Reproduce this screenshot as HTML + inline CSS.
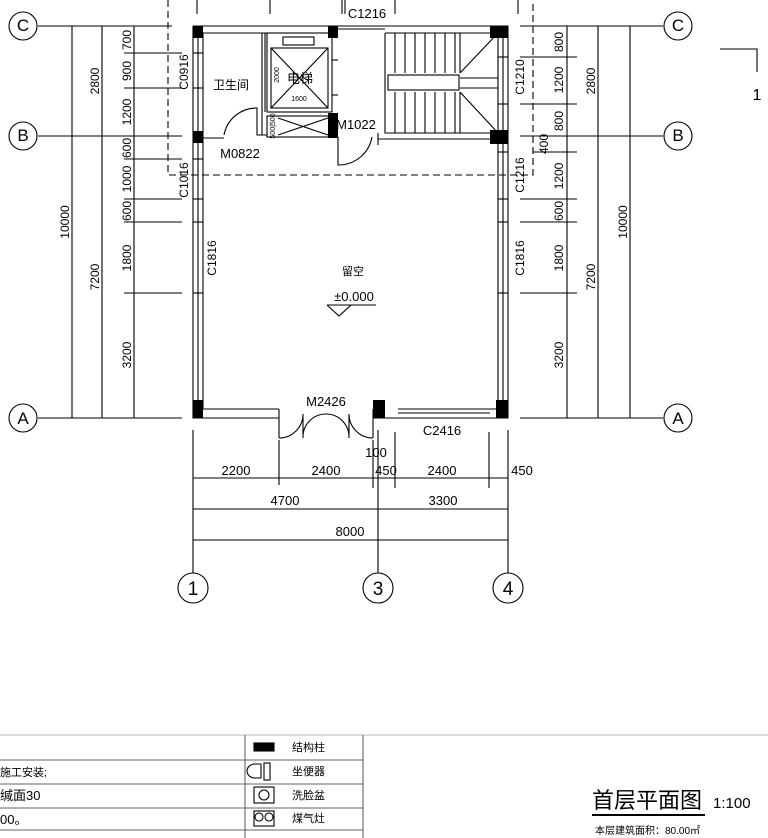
<!DOCTYPE html>
<html><head><meta charset="utf-8"><style>
html,body{margin:0;padding:0;background:#fff;}
svg{display:block;}
text{font-family:"Liberation Sans","Noto Sans CJK SC",sans-serif;fill:#000;}
</style></head><body>
<svg width="768" height="838" viewBox="0 0 768 838" xmlns="http://www.w3.org/2000/svg">
<g stroke="#000" stroke-width="1.1" fill="none">
<line x1="197" y1="0" x2="197" y2="14"/><line x1="270" y1="0" x2="270" y2="14"/>
<line x1="342" y1="0" x2="342" y2="14"/><line x1="345" y1="0" x2="345" y2="14"/>
<line x1="395" y1="0" x2="395" y2="14"/><line x1="518" y1="0" x2="518" y2="14"/>
<path d="M168 0 V175 H533 V0" stroke-dasharray="7,4"/>
<line x1="38" y1="26" x2="172" y2="26"/><line x1="38" y1="136" x2="182" y2="136"/><line x1="38" y1="418" x2="182" y2="418"/>
<line x1="72" y1="26" x2="72" y2="418"/><line x1="102" y1="26" x2="102" y2="418"/><line x1="134" y1="26" x2="134" y2="418"/>
<line x1="124" y1="53" x2="182" y2="53"/><line x1="124" y1="88" x2="182" y2="88"/>
<line x1="124" y1="159" x2="182" y2="159"/><line x1="124" y1="199" x2="182" y2="199"/>
<line x1="124" y1="222" x2="182" y2="222"/><line x1="124" y1="293" x2="182" y2="293"/>
<line x1="520" y1="26" x2="663" y2="26"/><line x1="520" y1="136" x2="663" y2="136"/><line x1="520" y1="418" x2="663" y2="418"/>
<line x1="567" y1="26" x2="567" y2="418"/><line x1="598" y1="26" x2="598" y2="418"/><line x1="630" y1="26" x2="630" y2="418"/>
<line x1="520" y1="57" x2="577" y2="57"/><line x1="520" y1="104" x2="577" y2="104"/>
<line x1="533" y1="152" x2="577" y2="152"/><line x1="520" y1="199" x2="577" y2="199"/>
<line x1="520" y1="222" x2="577" y2="222"/><line x1="520" y1="293" x2="577" y2="293"/>
<circle cx="23" cy="26" r="14"/><circle cx="23" cy="136" r="14"/><circle cx="23" cy="418" r="14"/>
<circle cx="678" cy="26" r="14"/><circle cx="678" cy="136" r="14"/><circle cx="678" cy="418" r="14"/>
<path d="M720 49 H757 V72"/>
<line x1="193" y1="430" x2="193" y2="573"/><line x1="378" y1="430" x2="378" y2="573"/><line x1="508" y1="430" x2="508" y2="573"/>
<line x1="279" y1="440" x2="279" y2="485"/><line x1="373" y1="440" x2="373" y2="488"/>
<line x1="395" y1="432" x2="395" y2="488"/><line x1="489" y1="432" x2="489" y2="488"/>
<line x1="193" y1="478" x2="508" y2="478"/><line x1="193" y1="509" x2="508" y2="509"/><line x1="193" y1="540" x2="508" y2="540"/>
<circle cx="193" cy="588" r="15"/><circle cx="378" cy="588" r="15"/><circle cx="508" cy="588" r="15"/>
<path d="M193 26 H508 V418 H373 M193 26 V418 H279"/>
<path d="M203 33 H338 M385 33 H498 V409 H398 M203 33 V409 H279"/>
<line x1="198" y1="33" x2="198" y2="409"/><line x1="503" y1="33" x2="503" y2="409"/>
<path d="M338 29 H385"/><line x1="398" y1="413" x2="490" y2="413"/>
<line x1="193" y1="53" x2="203" y2="53"/><line x1="193" y1="88" x2="203" y2="88"/>
<line x1="193" y1="159" x2="203" y2="159"/><line x1="193" y1="199" x2="203" y2="199"/>
<line x1="193" y1="222" x2="203" y2="222"/><line x1="193" y1="293" x2="203" y2="293"/>
<line x1="498" y1="57" x2="508" y2="57"/><line x1="498" y1="104" x2="508" y2="104"/>
<line x1="498" y1="152" x2="508" y2="152"/><line x1="498" y1="199" x2="508" y2="199"/>
<line x1="498" y1="222" x2="508" y2="222"/><line x1="498" y1="293" x2="508" y2="293"/>
<path d="M279 409 V438 M373 409 V438"/>
<path d="M279 438 A24 24 0 0 0 303 414 V438 M303 438 A23 23 0 0 1 326 414 A23 23 0 0 1 349 438 V414 A24 24 0 0 0 373 438"/>
<path d="M203 138 H224 M224 135 A33 33 0 0 1 257 108 V135 H267 M262 33 V135 M265 33 V112"/>
<rect x="267" y="33" width="65" height="79"/>
<rect x="271" y="48" width="57" height="60"/>
<path d="M271 48 L328 108 M328 48 L271 108"/>
<rect x="283" y="37" width="31" height="8"/>
<rect x="267" y="116" width="65" height="21"/>
<path d="M278 118 L328 135 M278 135 L328 118"/>
<line x1="332" y1="60" x2="338" y2="60"/><line x1="332" y1="95" x2="338" y2="95"/>
<path d="M338 137 V165 A34 34 0 0 0 372 137"/>
<path d="M385 33 V133 H498"/><line x1="378" y1="139" x2="498" y2="139"/><line x1="378" y1="133" x2="378" y2="145"/>
<path d="M395 33 V73 M405 33 V73 M415 33 V73 M425 33 V73 M435 33 V73 M445 33 V73 M455 33 V73 M460 33 V73"/>
<path d="M395 92 V133 M405 92 V133 M415 92 V133 M425 92 V133 M435 92 V133 M445 92 V133 M455 92 V133 M460 92 V133"/>
<rect x="388" y="75" width="71" height="15"/>
<path d="M460 73 L498 33 M460 92 L498 133 M460 78 H498 M460 88 H498"/>
<path d="M327 305 H376 M327 305 L339 316 L351 305"/>
<line x1="0" y1="735" x2="768" y2="735" stroke="#bbb"/>
<path d="M0 760 H363 M0 784 H363 M0 808 H363 M0 830 H363 M245 735 V838 M363 735 V838" stroke="#666"/>
<rect x="254" y="743" width="20" height="8" fill="#000"/>
<path d="M261 764 H255 A8 7 0 0 0 255 778 H261 Z"/><rect x="264" y="763" width="6" height="17"/>
<rect x="254" y="787" width="20" height="16"/><circle cx="264" cy="795" r="5"/>
<rect x="254" y="811" width="20" height="15"/><circle cx="259" cy="817" r="4"/><circle cx="269" cy="817" r="4"/>
<line x1="592" y1="815" x2="705" y2="815" stroke-width="2"/>
</g>
<g fill="#000">
<rect x="193" y="26" width="10" height="12"/><rect x="328" y="26" width="10" height="12"/><rect x="490" y="26" width="18" height="12"/>
<rect x="193" y="131" width="10" height="12"/><rect x="328" y="113" width="10" height="25"/><rect x="490" y="130" width="18" height="14"/>
<rect x="193" y="400" width="10" height="18"/><rect x="373" y="400" width="12" height="18"/><rect x="496" y="400" width="12" height="18"/>
</g>
<g font-size="13">
<text x="23" y="31" text-anchor="middle" font-family="Liberation Serif" font-size="17">C</text>
<text x="23" y="141" text-anchor="middle" font-family="Liberation Serif" font-size="17">B</text>
<text x="23" y="424" text-anchor="middle" font-family="Liberation Serif" font-size="17">A</text>
<text x="678" y="31" text-anchor="middle" font-family="Liberation Serif" font-size="17">C</text>
<text x="678" y="141" text-anchor="middle" font-family="Liberation Serif" font-size="17">B</text>
<text x="678" y="424" text-anchor="middle" font-family="Liberation Serif" font-size="17">A</text>
<text x="193" y="595" text-anchor="middle" font-family="Liberation Serif" font-size="19">1</text>
<text x="378" y="595" text-anchor="middle" font-family="Liberation Serif" font-size="19">3</text>
<text x="508" y="595" text-anchor="middle" font-family="Liberation Serif" font-size="19">4</text>
<text x="757" y="100" text-anchor="middle" font-family="Liberation Serif" font-size="16">1</text>
<text x="367" y="18" text-anchor="middle">C1216</text>
<text x="236" y="475" text-anchor="middle">2200</text>
<text x="326" y="475" text-anchor="middle">2400</text>
<text x="376" y="457" text-anchor="middle">100</text>
<text x="386" y="475" text-anchor="middle">450</text>
<text x="442" y="475" text-anchor="middle">2400</text>
<text x="522" y="475" text-anchor="middle">450</text>
<text x="285" y="505" text-anchor="middle">4700</text>
<text x="443" y="505" text-anchor="middle">3300</text>
<text x="350" y="536" text-anchor="middle">8000</text>
<text x="326" y="406" text-anchor="middle">M2426</text>
<text x="442" y="435" text-anchor="middle">C2416</text>
<text x="354" y="301" text-anchor="middle">±0.000</text>
<text x="356" y="129" text-anchor="middle">M1022</text>
<text x="240" y="158" text-anchor="middle">M0822</text>
<text x="353" y="275" text-anchor="middle" font-size="11">留空</text>
<text x="231" y="89" text-anchor="middle" font-size="12">卫生间</text>
<text x="300" y="83" text-anchor="middle" font-size="13">电梯</text>
<text x="299" y="101" text-anchor="middle" font-size="7">1600</text>
<g font-size="12">
<text transform="translate(69,222) rotate(-90)" text-anchor="middle">10000</text>
<text transform="translate(99,81) rotate(-90)" text-anchor="middle">2800</text>
<text transform="translate(99,277) rotate(-90)" text-anchor="middle">7200</text>
<text transform="translate(131,40) rotate(-90)" text-anchor="middle">700</text>
<text transform="translate(131,71) rotate(-90)" text-anchor="middle">900</text>
<text transform="translate(131,112) rotate(-90)" text-anchor="middle">1200</text>
<text transform="translate(131,148) rotate(-90)" text-anchor="middle">600</text>
<text transform="translate(131,179) rotate(-90)" text-anchor="middle">1000</text>
<text transform="translate(131,211) rotate(-90)" text-anchor="middle">600</text>
<text transform="translate(131,258) rotate(-90)" text-anchor="middle">1800</text>
<text transform="translate(131,355) rotate(-90)" text-anchor="middle">3200</text>
<text transform="translate(188,72) rotate(-90)" text-anchor="middle">C0916</text>
<text transform="translate(188,180) rotate(-90)" text-anchor="middle">C1016</text>
<text transform="translate(216,258) rotate(-90)" text-anchor="middle">C1816</text>
<text transform="translate(524,77) rotate(-90)" text-anchor="middle">C1210</text>
<text transform="translate(524,175) rotate(-90)" text-anchor="middle">C1216</text>
<text transform="translate(524,258) rotate(-90)" text-anchor="middle">C1816</text>
<text transform="translate(563,42) rotate(-90)" text-anchor="middle">800</text>
<text transform="translate(563,80) rotate(-90)" text-anchor="middle">1200</text>
<text transform="translate(563,121) rotate(-90)" text-anchor="middle">800</text>
<text transform="translate(548,144) rotate(-90)" text-anchor="middle">400</text>
<text transform="translate(563,176) rotate(-90)" text-anchor="middle">1200</text>
<text transform="translate(563,211) rotate(-90)" text-anchor="middle">600</text>
<text transform="translate(563,258) rotate(-90)" text-anchor="middle">1800</text>
<text transform="translate(563,355) rotate(-90)" text-anchor="middle">3200</text>
<text transform="translate(595,81) rotate(-90)" text-anchor="middle">2800</text>
<text transform="translate(595,277) rotate(-90)" text-anchor="middle">7200</text>
<text transform="translate(627,222) rotate(-90)" text-anchor="middle">10000</text>
<text transform="translate(279,75) rotate(-90)" text-anchor="middle" font-size="7">2000</text>
<text transform="translate(275,126) rotate(-90)" text-anchor="middle" font-size="7">500|500</text>
</g>
<g font-size="11">
<text x="292" y="751">结构柱</text><text x="292" y="775">坐便器</text>
<text x="292" y="799">洗脸盆</text><text x="292" y="822">煤气灶</text>
<text x="0" y="776">施工安装;</text><text x="0" y="800" font-size="13">缄面30</text><text x="0" y="824" font-size="13">00。</text>
</g>
<text x="592" y="808" font-size="22">首层平面图</text>
<text x="713" y="808" font-size="15">1:100</text>
<text x="595" y="834" font-size="10">本层建筑面积：80.00㎡</text>
</g>
</svg>
</body></html>
